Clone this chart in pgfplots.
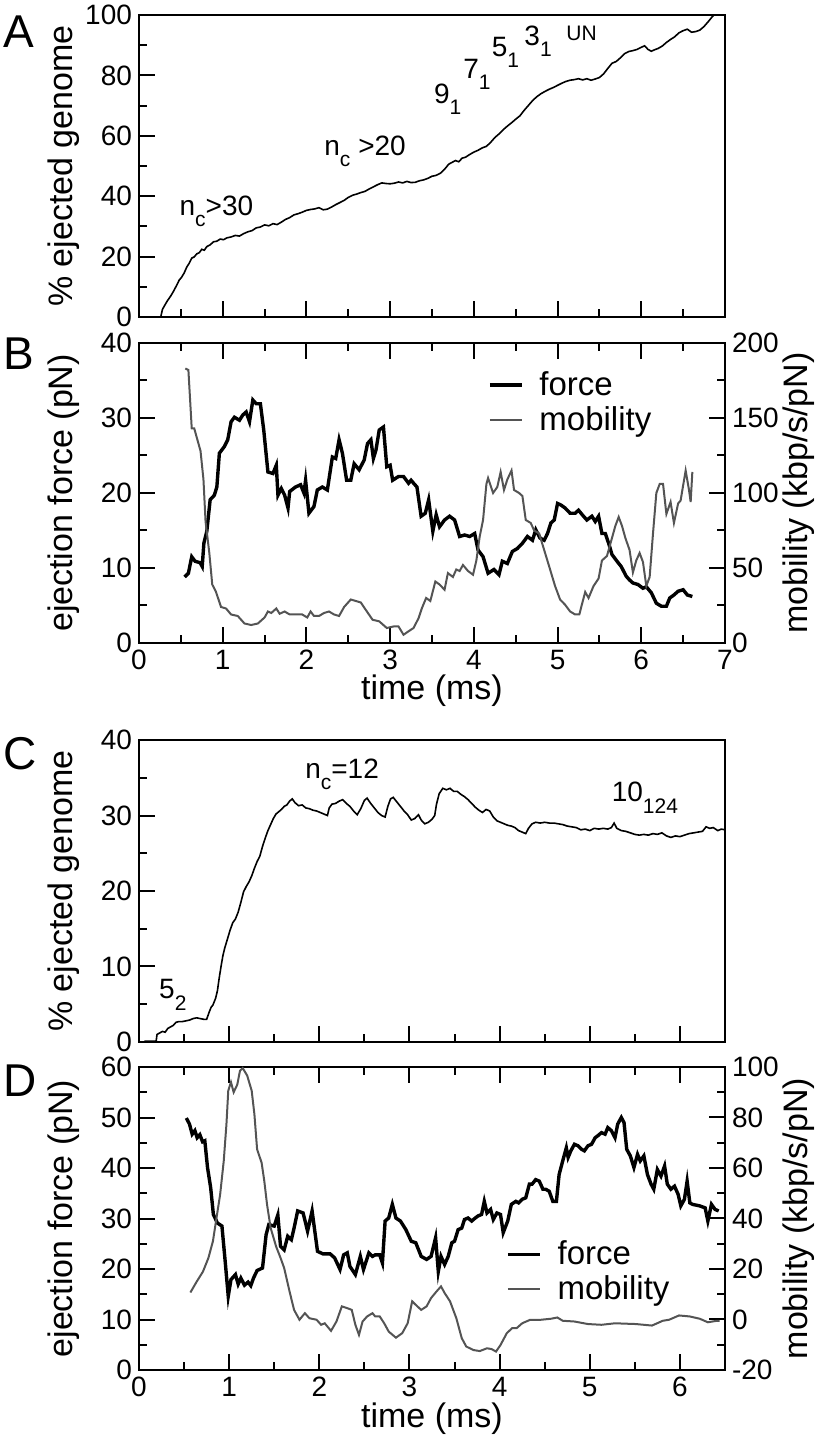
\documentclass[border=0pt]{standalone}
\usepackage{fontspec}
\setmainfont{Liberation Sans}
\usepackage{pgfplots}
\pgfplotsset{compat=1.18}
\definecolor{mob}{gray}{0.33}
\newcommand\lsub[1]{\raisebox{-0.75ex}{\fontsize{10.5}{10.5}\selectfont #1}}
\tikzset{
  thinline/.style={black, line width=0.8pt},
  forceline/.style={black, line width=1.7pt},
  mobline/.style={mob, line width=1.0pt},
  ann/.style={anchor=base west, font=\fontsize{14}{14}\selectfont, inner sep=0pt},
  letter/.style={anchor=base west, font=\fontsize{23}{23}\selectfont, inner sep=0pt},
}
\pgfplotsset{
  base/.style={scale only axis, width=293pt, anchor=south west,
    axis line style={line width=1.2pt}, tick align=inside,
    major tick length=8pt, minor tick length=4pt,
    every tick/.style={black, line width=1pt},
    tick label style={font=\fontsize{14}{14}\selectfont},
    /pgf/number format/assume math mode=true,
    every axis y label/.style={at={(axis description cs:-0.128,0.5)}, rotate=90, anchor=center,
      font=\fontsize{17}{17}\selectfont},
    every axis x label/.style={at={(axis description cs:0.5,-0.16)}, anchor=center,
      font=\fontsize{17}{17}\selectfont},
    minor x tick num=1, minor y tick num=1},
  rightax/.style={base, axis x line=none, axis y line*=right,
    every axis y label/.style={at={(axis description cs:1.125,0.5)}, rotate=90, anchor=center,
      font=\fontsize{17}{17}\selectfont},
    legend cell align=left,
    legend image code/.code={\draw[##1] (0pt,0pt) -- (16pt,0pt);}},
  legstyle/.style={legend style={at={#1}, anchor=north west, draw=none, fill=none,
    font=\fontsize{16.5}{16.5}\selectfont, inner sep=0pt,
    /tikz/every odd column/.append style={column sep=6pt}}},
}
\begin{document}
\begin{tikzpicture}
\useasboundingbox (0,0) rectangle (408pt,720.5pt);
\node[letter] at (1.5pt,696.5pt) {A};
\node[letter] at (1.5pt,535.5pt) {B};
\node[letter] at (1.5pt,335.5pt) {C};
\node[letter] at (1.5pt,172pt) {D};

% ---------------- A
\begin{axis}[base, at={(69.5pt,562pt)}, height=151pt,
  xmin=0, xmax=7, ymin=0, ymax=100,
  xtick={0,1,...,7}, xticklabels={}, ytick={0,20,...,100},
  xtick pos=left, ytick pos=left,
  ylabel={\% ejected genome}]
\addplot[thinline] coordinates {
(0.26,0)(0.28,2.5)(0.31,4.0)(0.34,5.4)(0.38,7.0)(0.41,8.4)(0.45,10.5)(0.48,12.2)(0.51,13.2)(0.54,14.6)
(0.57,16.5)(0.60,17.8)(0.63,19.5)(0.66,19.9)(0.69,20.9)(0.72,21.3)(0.75,22.4)(0.78,22.1)(0.81,23.3)(0.85,23.9)
(0.89,24.9)(0.93,25.1)(0.97,25.8)(1.01,25.6)(1.05,26.2)(1.10,26.5)(1.15,27.0)(1.20,26.8)(1.25,27.6)(1.30,28.2)
(1.35,28.6)(1.40,29.5)(1.45,29.8)(1.50,30.5)(1.55,30.2)(1.60,30.9)(1.65,30.6)(1.70,31.4)(1.75,32.3)(1.80,32.9)
(1.85,33.8)(1.90,34.2)(1.95,34.7)(2.00,35.3)(2.05,35.6)(2.10,35.8)(2.15,36.2)(2.20,35.5)(2.25,35.7)(2.30,36.4)
(2.35,37.2)(2.40,37.9)(2.45,38.6)(2.50,39.6)(2.55,40.3)(2.60,40.7)(2.65,41.2)(2.70,41.6)(2.75,42.4)(2.80,43.1)
(2.85,43.8)(2.90,44.4)(2.95,44.2)(3.00,44.1)(3.05,44.3)(3.10,44.7)(3.15,44.4)(3.20,44.9)(3.25,44.5)(3.30,44.6)
(3.35,45.1)(3.40,45.4)(3.45,45.9)(3.50,46.6)(3.55,46.9)(3.60,47.6)(3.65,48.9)(3.70,50.6)(3.74,51.2)(3.78,51.8)
(3.82,51.4)(3.86,52.6)(3.90,52.9)(3.95,53.8)(4.00,54.6)(4.05,55.2)(4.10,56.0)(4.15,56.5)(4.20,57.8)(4.25,59.4)
(4.30,60.6)(4.35,62.0)(4.40,63.2)(4.45,64.3)(4.50,65.5)(4.55,66.6)(4.60,68.4)(4.65,70.0)(4.70,71.6)(4.75,72.9)
(4.80,73.9)(4.85,74.7)(4.90,75.4)(4.95,76.0)(5.00,76.7)(5.05,77.4)(5.10,78.0)(5.15,78.4)(5.20,78.6)(5.25,78.9)
(5.30,78.5)(5.35,78.9)(5.40,78.4)(5.45,78.8)(5.50,79.3)(5.55,80.5)(5.60,82.3)(5.65,84.0)(5.70,84.6)(5.75,85.8)
(5.80,87.2)(5.85,87.9)(5.90,88.2)(5.95,88.6)(6.00,89.3)(6.04,89.8)(6.08,88.6)(6.12,88.0)(6.16,88.5)(6.20,88.9)
(6.25,89.7)(6.30,90.9)(6.35,91.9)(6.40,92.8)(6.45,94.1)(6.50,94.8)(6.55,95.3)(6.60,94.3)(6.65,94.5)(6.70,95.0)
(6.75,96.2)(6.80,97.8)(6.85,99.5)(6.87,100)};
\node[ann] at (axis cs:0.48,33.7) {n\lsub{c}>30};
\node[ann] at (axis cs:2.21,53.6) {n\lsub{c} >20};
\node[ann] at (axis cs:3.52,70.7) {9\lsub{1}};
\node[ann] at (axis cs:3.87,79) {7\lsub{1}};
\node[ann] at (axis cs:4.21,86.2) {5\lsub{1}};
\node[ann] at (axis cs:4.60,90) {3\lsub{1}};
\node[ann, font=\fontsize{10.5}{10.5}\selectfont] at (axis cs:5.10,91.7) {UN};
\end{axis}

% ---------------- B
\begin{axis}[base, at={(69.5pt,399pt)}, height=150pt,
  xmin=0, xmax=7, ymin=0, ymax=40,
  xtick={0,1,...,7}, ytick={0,10,...,40},
  xtick pos=both, ytick pos=left,
  xlabel={time (ms)}, ylabel={ejection force (pN)}]
\addplot[forceline] coordinates {
(0.545,8.8)(0.59,9.3)(0.63,11.5)(0.67,10.9)(0.73,10.7)(0.755,10.2)(0.775,13.3)(0.81,14.9)(0.85,19.1)(0.90,19.7)
(0.93,20.8)(0.96,25.3)(1.02,26.2)(1.06,27.1)(1.10,29.5)(1.14,30.1)(1.20,29.7)(1.24,30.4)(1.28,30.8)(1.32,29.5)
(1.36,32.4)(1.40,31.9)(1.45,31.9)(1.49,28.4)(1.54,22.8)(1.60,22.6)(1.64,23.7)(1.66,19.7)(1.70,20.6)(1.74,19.7)
(1.78,18.0)(1.80,20.2)(1.87,20.8)(1.93,21.1)(1.97,20.0)(1.99,21.7)(2.03,17.3)(2.09,18.2)(2.13,20.4)(2.19,20.8)
(2.25,20.4)(2.31,24.8)(2.35,24.6)(2.39,27.1)(2.43,25.3)(2.48,21.7)(2.53,21.7)(2.57,23.9)(2.63,23.1)(2.69,24.4)
(2.73,26.6)(2.77,27.1)(2.80,24.6)(2.83,25.7)(2.87,28.4)(2.92,28.8)(2.96,23.5)(3.00,23.7)(3.03,21.7)(3.10,22.2)
(3.16,22.2)(3.22,21.3)(3.25,21.7)(3.28,21.3)(3.32,20.8)(3.37,16.9)(3.42,17.3)(3.46,19.1)(3.51,14.9)(3.55,17.1)
(3.59,15.5)(3.65,16.4)(3.71,16.9)(3.77,16.4)(3.83,14.2)(3.89,14.4)(3.95,14.2)(4.01,14.6)(4.05,12.4)(4.11,11.5)
(4.17,9.3)(4.24,9.8)(4.30,9.1)(4.34,10.9)(4.40,10.6)(4.46,12.2)(4.52,12.6)(4.58,13.3)(4.64,14.2)(4.70,13.7)
(4.74,15.1)(4.79,14.0)(4.84,13.7)(4.88,14.6)(4.92,16.0)(4.96,16.4)(5.00,18.6)(5.04,18.4)(5.09,18.0)(5.15,17.3)
(5.21,17.3)(5.25,17.7)(5.31,16.9)(5.35,16.4)(5.41,16.9)(5.45,16.2)(5.49,16.9)(5.53,14.6)(5.57,14.6)(5.61,13.3)
(5.65,11.8)(5.71,10.9)(5.76,10.2)(5.82,8.9)(5.86,8.4)(5.90,8.0)(5.96,7.8)(6.02,7.3)(6.06,7.5)(6.12,6.7)
(6.18,5.3)(6.24,4.9)(6.30,4.9)(6.34,6.0)(6.39,6.4)(6.44,6.9)(6.50,7.1)(6.55,6.4)(6.61,6.2)};
\end{axis}
\begin{axis}[rightax, legstyle={(0.595,0.92)}, at={(69.5pt,399pt)}, height=150pt,
  xmin=0, xmax=7, ymin=0, ymax=200, ytick={0,50,...,200},
  ylabel={mobility (kbp/s/pN)}]
\addlegendimage{forceline}
\addlegendentry{force}
\addplot[mobline] coordinates {
(0.553,183)(0.59,182)(0.63,143)(0.66,143)(0.69,137)(0.735,128)(0.77,109)(0.795,81)(0.84,60)(0.875,39)
(0.92,34)(0.98,24)(1.04,23)(1.10,19)(1.18,18)(1.26,13)(1.34,12)(1.42,13)(1.50,17)(1.54,21)
(1.58,20)(1.64,23)(1.68,19.5)(1.74,21)(1.80,19)(1.89,19)(1.95,19)(2.01,17)(2.05,21)(2.09,18)
(2.15,18)(2.21,20)(2.27,21)(2.33,19)(2.39,18)(2.45,24)(2.53,29)(2.59,28)(2.65,27)(2.71,22)
(2.79,15.5)(2.87,14.4)(2.96,10)(3.04,11)(3.10,11)(3.16,5.5)(3.22,7.8)(3.28,10)(3.34,16.6)(3.38,23.3)
(3.43,30)(3.48,28)(3.54,41)(3.59,39)(3.65,35.5)(3.69,46.6)(3.75,44)(3.79,49)(3.83,48)(3.87,52)
(3.93,48)(3.99,45.5)(4.03,55)(4.07,71)(4.11,82)(4.15,106)(4.17,110)(4.23,100)(4.28,104)(4.32,114)
(4.36,102)(4.40,109)(4.45,115)(4.48,102)(4.54,100)(4.58,98)(4.62,82)(4.68,80)(4.72,75)(4.78,73)
(4.84,62)(4.90,51)(4.97,38)(5.03,29)(5.09,25.5)(5.15,21)(5.21,19)(5.26,19)(5.29,25.5)(5.33,34)
(5.37,30)(5.43,38)(5.49,43)(5.53,55)(5.59,58)(5.65,70)(5.69,78)(5.73,84)(5.77,78)(5.81,70)
(5.86,62)(5.90,47)(5.94,55)(5.98,60)(6.02,54)(6.06,38)(6.10,44)(6.14,73)(6.18,100)(6.22,106)
(6.26,106)(6.30,86)(6.35,94)(6.39,80)(6.44,93)(6.47,95)(6.53,115)(6.57,102)(6.59,94)(6.61,114)};
\addlegendentry{mobility}
\end{axis}

% ---------------- C
\begin{axis}[base, at={(69.5pt,199.5pt)}, height=151pt,
  xmin=0, xmax=6.5, ymin=0, ymax=40,
  xtick={0,1,...,6}, xticklabels={}, ytick={0,10,...,40},
  xtick pos=left, ytick pos=left,
  ylabel={\% ejected genome}]
\addplot[thinline] coordinates {
(0.06,0.1)(0.19,0.1)(0.20,1.0)(0.23,1.2)(0.26,1.4)(0.29,1.3)(0.32,1.8)(0.35,2.0)(0.38,2.2)(0.41,2.6)
(0.44,2.7)(0.48,2.7)(0.52,2.8)(0.56,2.9)(0.60,3.1)(0.64,3.2)(0.68,3.1)(0.72,3.0)(0.75,3.0)(0.78,4.0)
(0.80,4.6)(0.82,4.9)(0.85,5.8)(0.87,6.8)(0.89,8.5)(0.91,10.0)(0.93,11.4)(0.95,12.4)(0.98,13.6)(1.01,14.8)
(1.04,15.8)(1.07,16.3)(1.10,17.2)(1.13,18.5)(1.16,19.9)(1.19,20.6)(1.22,21.2)(1.25,22.0)(1.28,23.0)(1.31,23.9)
(1.34,24.6)(1.37,25.9)(1.40,27.0)(1.43,28.0)(1.46,28.8)(1.49,29.6)(1.52,30.2)(1.55,30.5)(1.58,30.8)(1.61,31.2)
(1.64,31.4)(1.67,31.9)(1.70,32.2)(1.73,31.7)(1.77,31.3)(1.81,31.4)(1.85,31.0)(1.89,30.9)(1.93,30.7)(1.97,30.6)
(2.01,30.4)(2.05,30.2)(2.09,30.0)(2.11,31.0)(2.14,31.5)(2.18,31.6)(2.22,31.9)(2.26,32.1)(2.30,31.6)(2.34,31.2)
(2.38,30.6)(2.42,30.1)(2.46,30.9)(2.50,32.0)(2.53,32.3)(2.57,31.6)(2.61,31.0)(2.65,30.4)(2.69,30.0)(2.73,29.8)
(2.76,31.2)(2.79,32.2)(2.82,32.4)(2.86,31.8)(2.90,31.2)(2.94,30.6)(2.98,30.1)(3.02,29.4)(3.06,29.6)(3.10,30.1)
(3.13,29.4)(3.17,28.9)(3.21,29.1)(3.25,29.5)(3.28,30.0)(3.30,31.5)(3.33,32.9)(3.37,33.6)(3.41,33.4)(3.45,33.6)
(3.49,33.2)(3.53,33.2)(3.57,32.8)(3.61,32.5)(3.65,32.1)(3.69,31.6)(3.73,31.1)(3.77,30.7)(3.81,30.4)(3.85,30.8)
(3.89,30.6)(3.93,29.8)(3.97,29.3)(4.01,29.1)(4.05,28.9)(4.09,28.7)(4.13,28.6)(4.17,28.4)(4.21,28.0)(4.25,27.8)
(4.29,27.6)(4.32,28.3)(4.36,28.9)(4.40,29.1)(4.45,29.0)(4.50,29.1)(4.55,29.0)(4.60,29.0)(4.65,28.9)(4.70,28.8)
(4.75,28.6)(4.80,28.5)(4.85,28.4)(4.90,28.1)(4.95,28.2)(5.00,28.0)(5.05,28.3)(5.10,28.2)(5.15,28.3)(5.20,28.2)
(5.24,28.4)(5.27,29.0)(5.30,28.3)(5.35,28.0)(5.40,27.9)(5.45,27.7)(5.50,27.5)(5.55,27.4)(5.60,27.5)(5.65,27.4)
(5.70,27.6)(5.75,27.5)(5.80,27.7)(5.85,27.3)(5.90,27.1)(5.95,27.3)(6.00,27.2)(6.05,27.4)(6.10,27.6)(6.15,27.7)
(6.20,27.8)(6.25,27.9)(6.29,28.5)(6.33,28.3)(6.37,28.4)(6.42,28.0)(6.46,28.2)(6.50,28.1)};
\node[ann] at (axis cs:0.22,5.7) {5\lsub{2}};
\node[ann] at (axis cs:1.84,34.9) {n\lsub{c}=12};
\node[ann] at (axis cs:5.24,31.8) {10\lsub{124}};
\end{axis}

% ---------------- D
\begin{axis}[base, at={(69.5pt,35.5pt)}, height=151.5pt,
  xmin=0, xmax=6.5, ymin=0, ymax=60,
  xtick={0,1,...,6}, ytick={0,10,...,60},
  xtick pos=both, ytick pos=left,
  xlabel={time (ms)}, ylabel={ejection force (pN)}]
\addplot[forceline] coordinates {
(0.525,49.9)(0.56,48.7)(0.59,46.7)(0.62,47.4)(0.645,46)(0.675,46.6)(0.705,45.2)(0.73,45.4)(0.76,40.1)(0.795,36.1)
(0.825,30.8)(0.87,29.1)(0.92,28.5)(0.956,21.5)(0.99,14.6)(1.02,17.9)(1.07,18.9)(1.10,17.0)(1.13,18.2)(1.17,16.8)
(1.21,17.4)(1.24,16.7)(1.27,18.2)(1.31,19.7)(1.37,20.2)(1.41,26.8)(1.44,28.8)(1.50,28.5)(1.54,30.7)(1.57,24.5)
(1.61,23.8)(1.65,26.5)(1.69,25.8)(1.72,28.1)(1.76,31.5)(1.82,31.1)(1.87,27.5)(1.92,31.5)(1.98,23.5)(2.04,23.0)
(2.12,23.0)(2.17,22.2)(2.23,19.9)(2.27,22.8)(2.31,23.2)(2.34,20.5)(2.40,18.9)(2.455,22.5)(2.49,19.9)(2.55,23.2)
(2.59,22.5)(2.62,22.8)(2.67,22.8)(2.70,21.2)(2.73,29.5)(2.77,30.1)(2.81,32.8)(2.85,30.1)(2.90,29.5)(2.96,27.8)
(3.02,25.5)(3.07,25.2)(3.13,22.5)(3.19,21.9)(3.24,22.5)(3.29,26.2)(3.32,19.5)(3.35,22.5)(3.39,20.9)(3.43,22.5)
(3.47,25.2)(3.50,25.5)(3.54,27.8)(3.58,28.1)(3.61,29.8)(3.65,30.1)(3.69,29.5)(3.73,30.1)(3.76,30.5)(3.80,30.8)
(3.83,33.4)(3.86,31.1)(3.90,31.8)(3.93,29.8)(3.97,31.1)(4.01,30.8)(4.04,27.2)(4.09,29.5)(4.13,32.8)(4.18,33.4)
(4.21,33.1)(4.25,33.8)(4.29,34.1)(4.33,36.8)(4.36,36.8)(4.40,37.7)(4.44,37.4)(4.48,35.8)(4.51,35.8)(4.55,35.4)
(4.59,33.4)(4.63,33.4)(4.66,38.7)(4.70,41.4)(4.74,44.0)(4.76,42.1)(4.79,43.4)(4.83,44.7)(4.87,44.4)(4.91,43.7)
(4.94,43.4)(4.98,44.4)(5.02,44.7)(5.06,46.0)(5.09,46.4)(5.13,47.0)(5.17,46.7)(5.20,48.0)(5.24,47.4)(5.28,46.0)
(5.31,48.7)(5.35,50.0)(5.38,49.0)(5.41,43.7)(5.45,42.4)(5.49,40.1)(5.53,42.7)(5.56,41.4)(5.60,42.4)(5.64,38.7)
(5.68,36.8)(5.71,35.8)(5.75,39.7)(5.79,38.4)(5.83,40.4)(5.86,36.8)(5.90,35.8)(5.94,36.4)(5.98,34.8)(6.01,32.5)
(6.05,33.8)(6.08,37.4)(6.11,33.1)(6.14,32.8)(6.22,32.5)(6.28,32.1)(6.31,29.5)(6.35,32.8)(6.39,31.8)(6.43,31.5)};
\end{axis}
\begin{axis}[rightax, legstyle={(0.626,0.44)}, at={(69.5pt,35.5pt)}, height=151.5pt,
  xmin=0, xmax=6.5, ymin=-20, ymax=100, ytick={-20,0,...,100},
  yticklabels={-20,0,20,40,60,80,100},
  ylabel={mobility (kbp/s/pN)}]
\addlegendimage{forceline}
\addlegendentry{force}
\addplot[mobline] coordinates {
(0.57,10.7)(0.64,15)(0.71,19)(0.77,24.4)(0.82,31)(0.86,40.3)(0.90,49.5)(0.94,62.8)(0.97,77.4)(0.99,90.6)
(1.02,94)(1.05,90)(1.09,93)(1.12,98.5)(1.15,99.6)(1.20,96.6)(1.25,90.6)(1.28,81.3)(1.31,67.4)(1.36,62.1)
(1.39,54.8)(1.42,45.6)(1.46,36.3)(1.52,29)(1.57,24.4)(1.61,20.4)(1.67,11.1)(1.72,3.8)(1.78,-0.1)(1.84,2.5)
(1.89,0.5)(1.97,-0.1)(2.02,-2.1)(2.06,-1.5)(2.13,-4.5)(2.19,-0.8)(2.25,5.2)(2.31,4.5)(2.36,3.8)(2.40,-2.1)
(2.44,-6.1)(2.48,-0.8)(2.53,1.2)(2.59,2.5)(2.62,1.2)(2.67,1.2)(2.72,-1.5)(2.77,-4.8)(2.85,-7.2)(2.92,-5.4)
(2.98,-1.5)(3.03,7.2)(3.07,5.8)(3.13,3.8)(3.19,5.2)(3.24,8.5)(3.30,11.1)(3.35,13.1)(3.39,10.5)(3.45,7.2)
(3.52,0.5)(3.58,-7.4)(3.63,-10.7)(3.71,-12.1)(3.78,-12.5)(3.86,-11.4)(3.91,-11.7)(3.96,-12.7)(4.01,-10.1)(4.08,-5.4)
(4.14,-3.4)(4.19,-3.4)(4.25,-1.5)(4.34,-0.1)(4.46,-0.1)(4.57,0.3)(4.64,0.8)(4.70,-0.5)(4.83,-0.8)(4.98,-1.8)
(5.13,-2.1)(5.28,-1.5)(5.51,-1.8)(5.69,-2.4)(5.81,-0.5)(5.88,-0.1)(5.99,1.6)(6.11,1.2)(6.22,0.3)(6.31,-1.1)
(6.41,-0.5)(6.44,-0.5)};
\addlegendentry{mobility}
\end{axis}
\end{tikzpicture}
\end{document}
